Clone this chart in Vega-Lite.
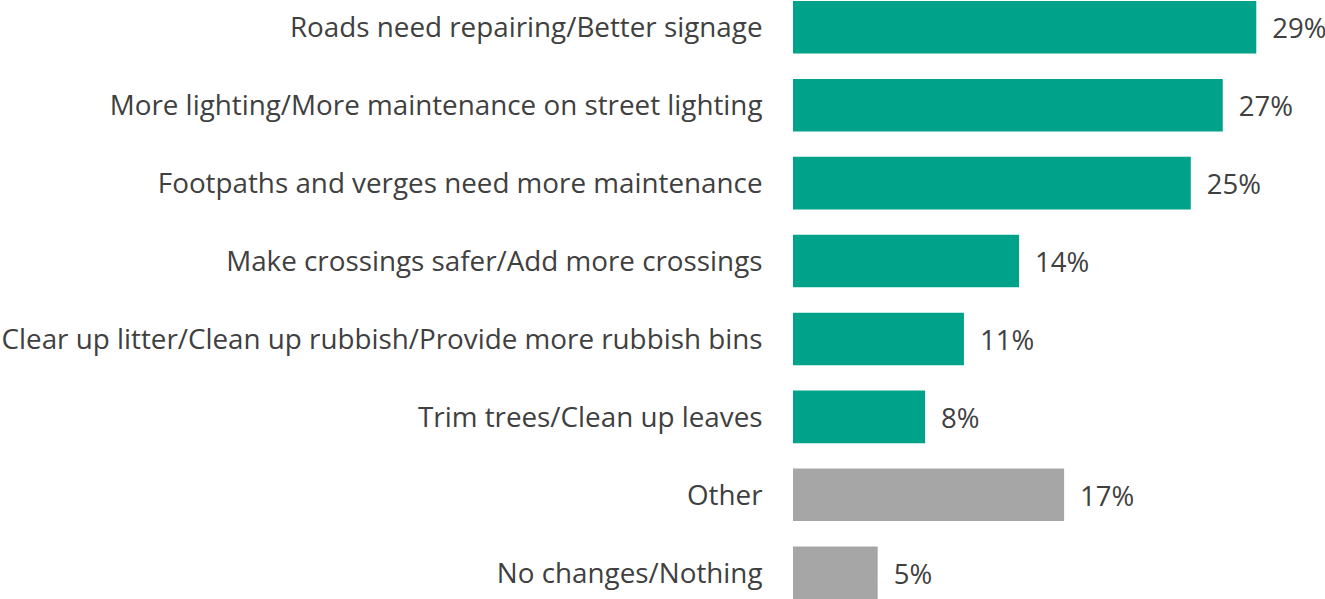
{
  "$schema": "https://vega.github.io/schema/vega-lite/v6.json",
  "width": 532,
  "height": 598,
  "autosize": {"type": "none"},
  "padding": {"left": 793, "top": 1, "right": 0, "bottom": 0},
  "background": "white",
  "config": {"view": {"stroke": null}, "font": "Open Sans"},
  "data": {
    "values": [
      {"item": "Roads need repairing/Better signage", "value": 0.29, "group": "main"},
      {"item": "More lighting/More maintenance on street lighting", "value": 0.269, "group": "main"},
      {"item": "Footpaths and verges need more maintenance", "value": 0.249, "group": "main"},
      {"item": "Make crossings safer/Add more crossings", "value": 0.1415, "group": "main"},
      {"item": "Clear up litter/Clean up rubbish/Provide more rubbish bins", "value": 0.107, "group": "main"},
      {"item": "Trim trees/Clean up leaves", "value": 0.0827, "group": "main"},
      {"item": "Other", "value": 0.1697, "group": "other"},
      {"item": "No changes/Nothing", "value": 0.053, "group": "other"}
    ]
  },
  "encoding": {
    "y": {
      "field": "item",
      "type": "nominal",
      "sort": null,
      "scale": {"paddingInner": 0.325, "paddingOuter": 0},
      "axis": {
        "title": null,
        "domain": false,
        "ticks": false,
        "labelPadding": 31,
        "labelFontSize": 27.8,
        "labelOffset": 2,
        "labelColor": "#404040",
        "labelLimit": 800
      }
    },
    "x": {
      "field": "value",
      "type": "quantitative",
      "scale": {"domain": [0, 0.333], "nice": false},
      "axis": null
    }
  },
  "layer": [
    {
      "mark": {"type": "bar"},
      "encoding": {
        "color": {
          "field": "group",
          "type": "nominal",
          "scale": {"domain": ["main", "other"], "range": ["#00A38A", "#A6A6A6"]},
          "legend": null
        }
      }
    },
    {
      "mark": {"type": "text", "align": "left", "baseline": "middle", "dx": 16, "dy": 3, "fontSize": 27.5, "color": "#404040"},
      "encoding": {
        "text": {"field": "value", "type": "quantitative", "format": ".0%"}
      }
    }
  ]
}
